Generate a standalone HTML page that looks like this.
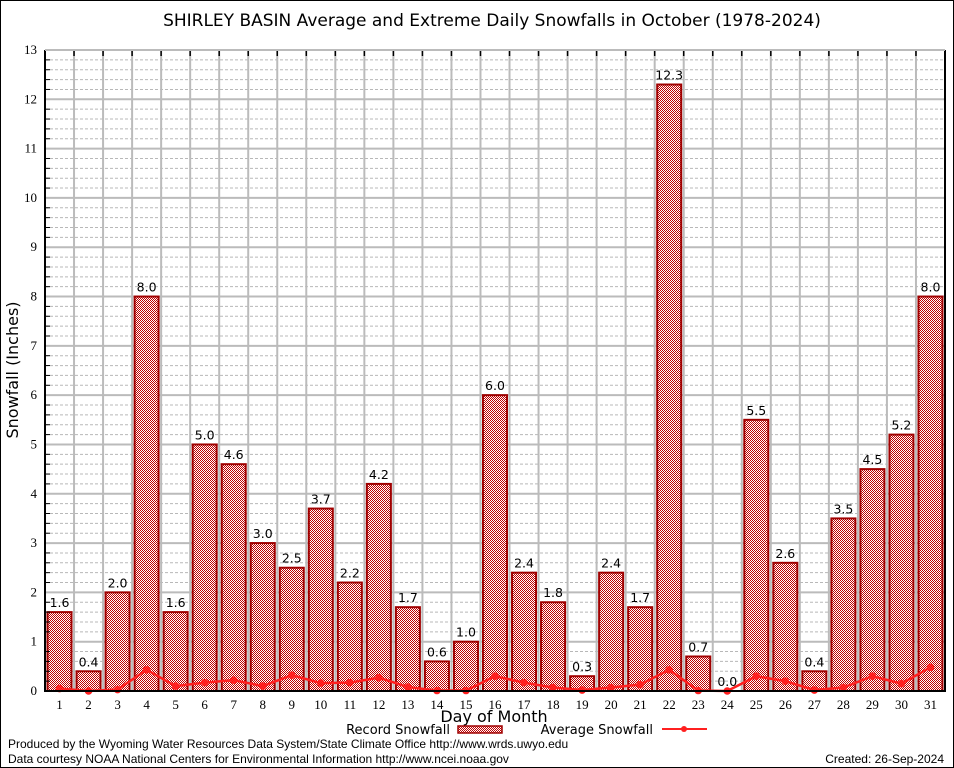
<!DOCTYPE html>
<html><head><meta charset="utf-8"><style>
body{margin:0;background:#fff;}
svg{display:block;font-family:"DejaVu Sans","Liberation Sans",sans-serif;}
</style></head><body>
<svg id="chart" width="954" height="768" viewBox="0 0 954 768" xmlns="http://www.w3.org/2000/svg">
<defs>
<pattern id="hatch" width="2" height="2" patternUnits="userSpaceOnUse">
<rect width="2" height="2" fill="#fff"/><rect width="1" height="1" fill="#c00000"/><rect x="1" y="1" width="1" height="1" fill="#c00000"/>
</pattern>
</defs>
<rect x="0.5" y="0.5" width="953" height="767" fill="#fff" stroke="#000"/>
<text x="492" y="26" font-size="17" text-anchor="middle">SHIRLEY BASIN Average and Extreme Daily Snowfalls in October (1978-2024)</text>
<g id="grid"></g>
<g id="bars"></g>
<g id="avg"></g>
<g id="axes"></g>
<text x="18" y="370" font-size="16" text-anchor="middle" transform="rotate(-90 18 370)">Snowfall (Inches)</text>
<text x="494" y="722" font-size="16" text-anchor="middle">Day of Month</text>
<g font-size="13">
<text x="450" y="734" text-anchor="end">Record Snowfall</text>
<rect x="458" y="726" width="44" height="7" fill="url(#hatch)" stroke="#a00000" stroke-width="1.5"/>
<text x="653" y="734" text-anchor="end">Average Snowfall</text>
<line x1="662" y1="729" x2="707" y2="729" stroke="#ff2020" stroke-width="2"/>
<circle cx="684" cy="729" r="3" fill="#ff2020"/>
</g>
<text x="8" y="748" font-size="12" font-family="Liberation Sans, sans-serif">Produced by the Wyoming Water Resources Data System/State Climate Office http://www.wrds.uwyo.edu</text>
<text x="8" y="763" font-size="12" font-family="Liberation Sans, sans-serif">Data courtesy NOAA National Centers for Environmental Information http://www.ncei.noaa.gov</text>
<text x="944" y="763" font-size="12" font-family="Liberation Sans, sans-serif" text-anchor="end">Created: 26-Sep-2024</text>
</svg>
<script>
const days = [1,2,3,4,5,6,7,8,9,10,11,12,13,14,15,16,17,18,19,20,21,22,23,24,25,26,27,28,29,30,31];
const recordSnow = [1.6,0.4,2.0,8.0,1.6,5.0,4.6,3.0,2.5,3.7,2.2,4.2,1.7,0.6,1.0,6.0,2.4,1.8,0.3,2.4,1.7,12.3,0.7,0.0,5.5,2.6,0.4,3.5,4.5,5.2,8.0];
const avgSnow = [0.05,0.0,0.03,0.43,0.1,0.17,0.22,0.1,0.32,0.16,0.17,0.27,0.08,0.01,0.01,0.3,0.17,0.07,0.02,0.07,0.13,0.43,0.01,0.0,0.3,0.2,0.02,0.07,0.3,0.15,0.48];
const yTicks = [0,1,2,3,4,5,6,7,8,9,10,11,12,13];

const NS='http://www.w3.org/2000/svg';
const L=45,R=945,T=50,B=691,yMax=13;
const step=(R-L)/31;
const x=d=>L+(d-0.5)*step;
const y=v=>B-(v/yMax)*(B-T);
function mk(tag,attrs,parent,text){const e=document.createElementNS(NS,tag);for(const k in attrs)e.setAttribute(k,attrs[k]);if(text!==undefined)e.textContent=text;parent.appendChild(e);return e;}
const grid=document.getElementById('grid'),bars=document.getElementById('bars'),avg=document.getElementById('avg'),axes=document.getElementById('axes');

for(let i=0;i<yMax*5;i++){if(i%5===0)continue;const v=i/5;
const l=mk('line',{x1:L,x2:R,y1:y(v),y2:y(v),stroke:'#b8b8b8','stroke-width':1,'stroke-dasharray':'3,2'},grid);


const t=mk('line',{x1:L,x2:L+5,y1:y(v),y2:y(v),stroke:'#000','stroke-width':1},axes);

}
yTicks.forEach(v=>{
const l=mk('line',{x1:L,x2:R,y1:y(v),y2:y(v),stroke:'#bbb','stroke-width':2},grid);


const t=mk('text',{x:L-8,y:y(v)+4,'font-size':13,'text-anchor':'end','font-family':'Liberation Serif, serif'},axes,String(v));

});
for(let i=1;i<31;i++){const xx=L+i*step;
const l=mk('line',{x1:xx,x2:xx,y1:T,y2:B,stroke:'#bbb','stroke-width':2},grid);


const t=mk('line',{x1:xx,x2:xx,y1:T,y2:T+6,stroke:'#000','stroke-width':1.5},axes);

}

days.forEach((d,i)=>{const v=recordSnow[i];const bw=24;
const r=mk('rect',{x:x(d)-bw/2,y:y(v),width:bw,height:B-y(v),fill:'url(#hatch)',stroke:'#a00000','stroke-width':2},bars);


const t=mk('text',{x:x(d),y:y(v)-5,'font-size':12.5,'text-anchor':'middle'},bars,v.toFixed(1));


const xl=mk('text',{x:x(d),y:B+18,'font-size':13,'text-anchor':'middle','font-family':'Liberation Serif, serif'},axes,String(d));

});

const pts=days.map((d,i)=>x(d)+','+y(avgSnow[i])).join(' ');
const pl=mk('polyline',{points:pts,fill:'none',stroke:'#ff2020','stroke-width':2.5},avg);


days.forEach((d,i)=>{const c=mk('circle',{cx:x(d),cy:y(avgSnow[i]),r:3.8,fill:'#ff2020'},avg);

});

const ax=mk('path',{d:`M${L},${T} V${B} H${R} V${T}`,fill:'none',stroke:'#000','stroke-width':2},axes);


const tl=mk('line',{x1:L,x2:R,y1:T,y2:T,stroke:'#bbb','stroke-width':2},axes);


</script>
</body></html>
